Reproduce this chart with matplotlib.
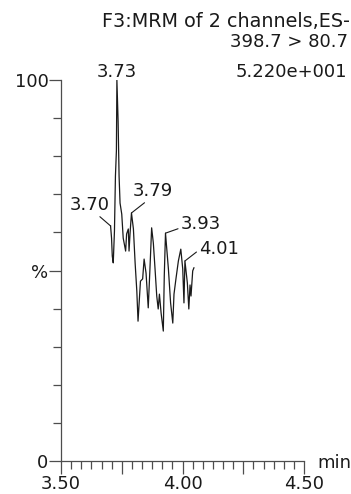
import matplotlib
matplotlib.use("Agg")
import matplotlib.pyplot as plt
import numpy as np
from matplotlib.ticker import MultipleLocator, FixedLocator

# retention time (min) and relative intensity (%)
rt = [3.704, 3.708, 3.711, 3.715, 3.720, 3.724, 3.728, 3.730, 3.735, 3.739,
      3.743, 3.750, 3.756, 3.766, 3.770, 3.777, 3.780, 3.784, 3.790, 3.798,
      3.805, 3.812, 3.817, 3.827, 3.836, 3.842, 3.850, 3.859, 3.866, 3.873,
      3.880, 3.887, 3.894, 3.900, 3.905, 3.912, 3.921, 3.925, 3.930, 3.942,
      3.951, 3.960, 3.965, 3.973, 3.983, 3.993, 4.001, 4.006, 4.010, 4.020,
      4.026, 4.031, 4.035, 4.042, 4.047]
intensity = [61.7, 58.5, 53.8, 52.0, 60.4, 74.8, 81.4, 100.0, 89.2, 74.8,
             67.7, 64.8, 58.5, 55.1, 59.6, 60.9, 55.1, 59.6, 65.1, 60.9,
             52.0, 44.6, 36.7, 47.2, 47.8, 53.0, 49.3, 40.2, 50.4, 61.2,
             57.2, 50.4, 43.3, 39.9, 43.8, 38.8, 34.1, 48.6, 59.8, 50.4,
             41.5, 36.2, 43.8, 47.8, 52.5, 55.6, 50.4, 41.5, 52.5, 46.7,
             39.9, 46.2, 43.3, 49.9, 50.7]

peak_labels = ["3.73", "3.70", "3.79", "3.93", "4.01"]
peak_rt = [3.730, 3.704, 3.790, 3.930, 4.010]
peak_int = [100.0, 61.7, 65.1, 59.8, 52.5]

header = ["F3:MRM of 2 channels,ES-", "398.7 > 80.7", "5.220e+001"]

fs = 13
ink = "#1a1a1a"
axis_col = "#4d4d4d"

fig = plt.figure(figsize=(3.51, 4.94), dpi=100)
ax = fig.add_axes([61/351, 1 - 461/494, 243/351, 381/494])

ax.plot(rt, intensity, color=ink, lw=0.9)

ax.set_xlim(3.5, 4.5)
ax.set_ylim(0, 100)

for s in ["top", "right"]:
    ax.spines[s].set_visible(False)
for s in ["left", "bottom"]:
    ax.spines[s].set_color(axis_col)
    ax.spines[s].set_linewidth(0.9)

ax.yaxis.set_major_locator(FixedLocator([0, 50, 100]))
ax.set_yticklabels(["0", "%", "100"])
ax.yaxis.set_minor_locator(MultipleLocator(10))
ax.xaxis.set_major_locator(FixedLocator([3.5, 3.75, 4.0, 4.25, 4.5]))
ax.set_xticklabels(["3.50", "", "4.00", "", "4.50"])
ax.xaxis.set_minor_locator(MultipleLocator(0.25/6))

ax.tick_params(axis="both", which="major", length=9, width=0.9, color=axis_col,
               labelsize=fs, labelcolor=ink, direction="out")
ax.tick_params(axis="both", which="minor", length=5.5, width=0.9, color=axis_col,
               direction="out")
ax.tick_params(axis="y", which="major", pad=0)
ax.tick_params(axis="x", which="major", pad=1)

# peak annotations (offsets in pixels, text anchored at left/baseline)
offsets = [(0, 3), (-40.7, 16), (1.3, 17), (15.3, 4), (14.3, 7)]
relpos = [(0.5, 0), (0.67, 0), (0.38, 0), (0, 0.3), (0, 0.45)]
for i, lab in enumerate(peak_labels):
    if i == 0:
        ax.annotate(lab, xy=(peak_rt[i], peak_int[i]), xytext=offsets[i],
                    textcoords="offset pixels", ha="center", va="baseline",
                    fontsize=fs, color=ink, annotation_clip=False)
    else:
        ax.annotate(lab, xy=(peak_rt[i], peak_int[i]), xytext=offsets[i],
                    textcoords="offset pixels", ha="left", va="baseline",
                    fontsize=fs, color=ink, annotation_clip=False,
                    arrowprops=dict(arrowstyle="-", color=ink, lw=0.8,
                                    shrinkA=0, shrinkB=0, relpos=relpos[i]))

ax.annotate("min", xy=(1, 0), xycoords="axes fraction", xytext=(13, -7),
            textcoords="offset pixels", ha="left", va="baseline",
            fontsize=fs, color=ink, annotation_clip=False)

fig.text(349.5/351, 1 - 27/494, header[0], ha="right", va="baseline",
         fontsize=13.8, color=ink)
fig.text(348/351, 1 - 47/494, header[1], ha="right", va="baseline",
         fontsize=fs, color=ink)
fig.text(346.7/351, 1 - 77/494, header[2], ha="right", va="baseline",
         fontsize=fs, color=ink)

fig.savefig("out.png", dpi=100)
